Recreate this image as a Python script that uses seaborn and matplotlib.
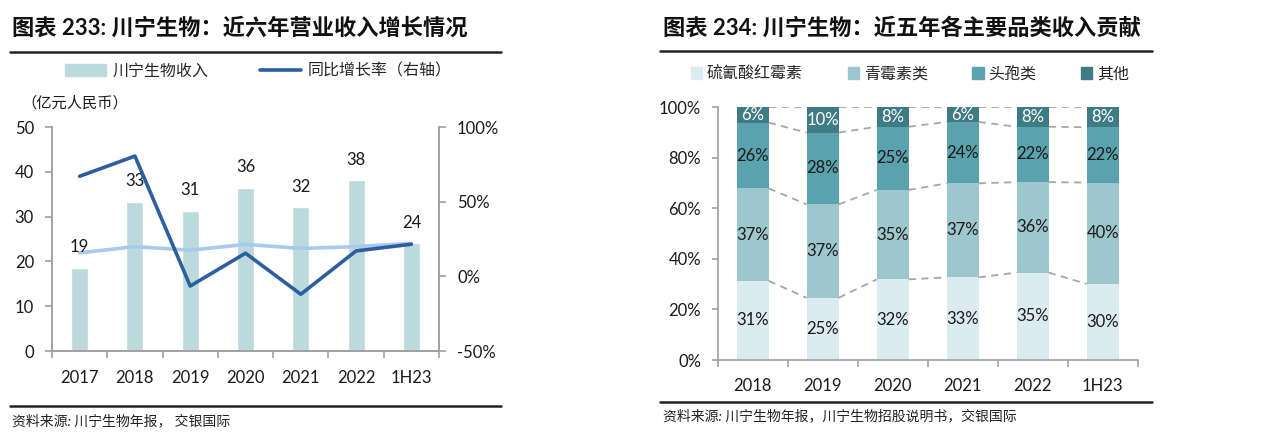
import numpy as np
import pandas as pd
import matplotlib.pyplot as plt
import seaborn as sns
from matplotlib.lines import Line2D
from matplotlib.patches import Patch

# 数据: 左图 营业收入 + 同比增长
years_left = ['2017', '2018', '2019', '2020', '2021', '2022', '1H23']
revenue = [18.6, 33.3, 31.3, 36.4, 32.1, 38.1, 24.1]          # 亿元人民币
yoy_growth = [67.0, 80.5, -6.5, 15.5, -12.0, 17.0, 21.5]       # %
light_line = [21.9, 23.3, 22.5, 23.8, 22.9, 23.3, 24.0]

# 数据: 右图 各品类收入占比 (%)
years_right = ['2018', '2019', '2020', '2021', '2022', '1H23']
erythro = [31.3, 24.6, 31.9, 32.7, 34.6, 30.1]
penicillin = [36.6, 37.0, 35.4, 37.2, 35.8, 40.1]
cephalo = [26.0, 28.4, 25.0, 24.3, 21.9, 21.9]
others = [6.1, 10.0, 7.7, 5.8, 7.7, 7.9]
seg_names = ['硫氰酸红霉素', '青霉素类', '头孢类', '其他']

sns.set_theme(style='white')
plt.rcParams['font.family'] = ['Lato', 'Noto Sans CJK SC', 'DejaVu Sans']

bar_col = '#BCD9DD'
line_col = '#2D5F9E'
light_col = '#A7CBEE'
seg_cols = ['#DCEBEF', '#9DC6CD', '#5AA2AE', '#3F7B84']
spine_col = '#A0A0A0'
txt_col = '#1A1A1A'

fig = plt.figure(figsize=(12.8, 4.44), dpi=100)
W, H = 1280, 444


def fx(px):
    return px / W


def fy(py):
    return 1 - py / H


# ---------------- 左图 ----------------
ax1 = fig.add_axes([fx(52), fy(351), fx(439 - 52), (351 - 127) / H])
sns.barplot(x=years_left, y=revenue, color=bar_col, saturation=1, width=0.31, ax=ax1)
sns.lineplot(x=np.arange(len(years_left)), y=light_line, color=light_col, lw=2.6, ax=ax1)
for i, v in enumerate(revenue):
    ax1.annotate(f'{v:.0f}', (i, v), xytext=(0, 9), textcoords='offset points',
                 ha='center', va='bottom', fontsize=12, color=txt_col)
ax1.set_ylim(0, 50)
ax1.set_yticks(range(0, 51, 10))
ax1.set_xlim(-0.5, len(years_left) - 0.5)

ax2 = ax1.twinx()
sns.lineplot(x=np.arange(len(years_left)), y=yoy_growth, color=line_col, lw=2.6, ax=ax2)
ax2.set_ylim(-50, 100)
ax2.set_yticks([-50, 0, 50, 100])
ax2.set_yticklabels(['-50%', '0%', '50%', '100%'])
ax2.set_xlim(-0.5, len(years_left) - 0.5)

for ax in (ax1, ax2):
    ax.set_xlabel('')
    ax.set_ylabel('')
    ax.spines['top'].set_visible(False)
    for s in ('left', 'right', 'bottom'):
        ax.spines[s].set_color(spine_col)
        ax.spines[s].set_linewidth(1.2)

ax1.set_xticks(np.arange(len(years_left)))
ax1.set_xticklabels(years_left)
ax1.set_xticks(np.arange(-0.5, len(years_left)), minor=True)
ax1.tick_params(axis='x', which='major', length=0, pad=14, labelsize=12, labelcolor=txt_col)
ax1.tick_params(axis='x', which='minor', length=5, width=1.2, color=spine_col, direction='out', bottom=True)
ax1.tick_params(axis='y', length=5, width=1.2, color=spine_col, direction='out', left=True,
                pad=8, labelsize=12, labelcolor=txt_col)
ax2.tick_params(axis='y', length=5, width=1.2, color=spine_col, direction='out', right=True,
                pad=8, labelsize=12, labelcolor=txt_col)

fig.legend(handles=[Patch(color=bar_col), Line2D([0], [0], color=line_col, lw=2.6)],
           labels=['川宁生物收入', '同比增长率（右轴）'], loc='center',
           bbox_to_anchor=(fx(258), fy(71)), ncol=2, frameon=False, fontsize=11.5,
           handlelength=2.6, columnspacing=3.2, handletextpad=0.4)
fig.text(fx(21), fy(103), '（亿元人民币）', fontsize=11, va='center', color=txt_col)

# ---------------- 右图 ----------------
ax3 = fig.add_axes([fx(717.7), fy(360), fx(1137.7 - 717.7), (360 - 107.3) / H])
df = pd.DataFrame({'year': years_right, seg_names[0]: erythro, seg_names[1]: penicillin,
                   seg_names[2]: cephalo, seg_names[3]: others})
cum = df[seg_names].cumsum(axis=1)
bw = 0.457
for k in range(3, -1, -1):
    sns.barplot(x=df['year'], y=cum[seg_names[k]], color=seg_cols[k], saturation=1,
                width=bw, ax=ax3, linewidth=0)

n = len(years_right)
for k in range(4):
    top = cum[seg_names[k]].values
    bottom = top - df[seg_names[k]].values
    for i in range(n):
        ax3.text(i, (top[i] + bottom[i]) / 2, f'{df[seg_names[k]][i]:.0f}%',
                 ha='center', va='center', fontsize=12,
                 color='white' if k == 3 else txt_col)
    for i in range(n - 1):
        ax3.plot([i + bw / 2, i + 1 - bw / 2], [top[i], top[i + 1]], ls=(0, (4, 3)),
                 color='#A6A6A6', lw=1.3, zorder=1)

ax3.set_ylim(0, 100)
ax3.set_xlim(-0.5, n - 0.5)
ax3.set_yticks(range(0, 101, 20))
ax3.set_yticklabels([f'{v}%' for v in range(0, 101, 20)])
ax3.set_xlabel('')
ax3.set_ylabel('')
ax3.spines['top'].set_visible(False)
ax3.spines['right'].set_visible(False)
for s in ('left', 'bottom'):
    ax3.spines[s].set_color(spine_col)
    ax3.spines[s].set_linewidth(1.2)
ax3.set_xticks(np.arange(n))
ax3.set_xticklabels(years_right)
ax3.set_xticks(np.arange(-0.5, n), minor=True)
ax3.tick_params(axis='x', which='major', length=0, pad=13, labelsize=12, labelcolor=txt_col)
ax3.tick_params(axis='x', which='minor', length=5, width=1.2, color=spine_col, direction='out', bottom=True)
ax3.tick_params(axis='y', length=4, width=1.2, color=spine_col, direction='out', left=True,
                pad=8, labelsize=12, labelcolor=txt_col)

fig.legend(handles=[Patch(color=c) for c in seg_cols], labels=seg_names, loc='center',
           bbox_to_anchor=(fx(910), fy(74)), ncol=4, frameon=False, fontsize=11.5,
           handlelength=0.7, handleheight=0.7, columnspacing=2.8, handletextpad=0.3)

# ---------------- 标题 / 分隔线 / 来源 ----------------
fig.text(fx(12), fy(28), '图表 233: 川宁生物：近六年营业收入增长情况', fontsize=16,
         fontweight='bold', va='center', color='#111111')
fig.text(fx(663), fy(28), '图表 234: 川宁生物：近五年各主要品类收入贡献', fontsize=16,
         fontweight='bold', va='center', color='#111111')
for x0, x1, y in [(10, 501, 52), (10, 501, 405.7), (660, 1152, 51), (660, 1152, 402)]:
    fig.add_artist(Line2D([fx(x0), fx(x1)], [fy(y), fy(y)], transform=fig.transFigure,
                          color='#222222', lw=1.8))
fig.text(fx(12), fy(420), '资料来源: 川宁生物年报， 交银国际', fontsize=10,
         style='italic', va='center', color='#222222')
fig.text(fx(663), fy(415), '资料来源: 川宁生物年报，川宁生物招股说明书，交银国际', fontsize=10,
         style='italic', va='center', color='#222222')

fig.savefig('out.png', dpi=100)
